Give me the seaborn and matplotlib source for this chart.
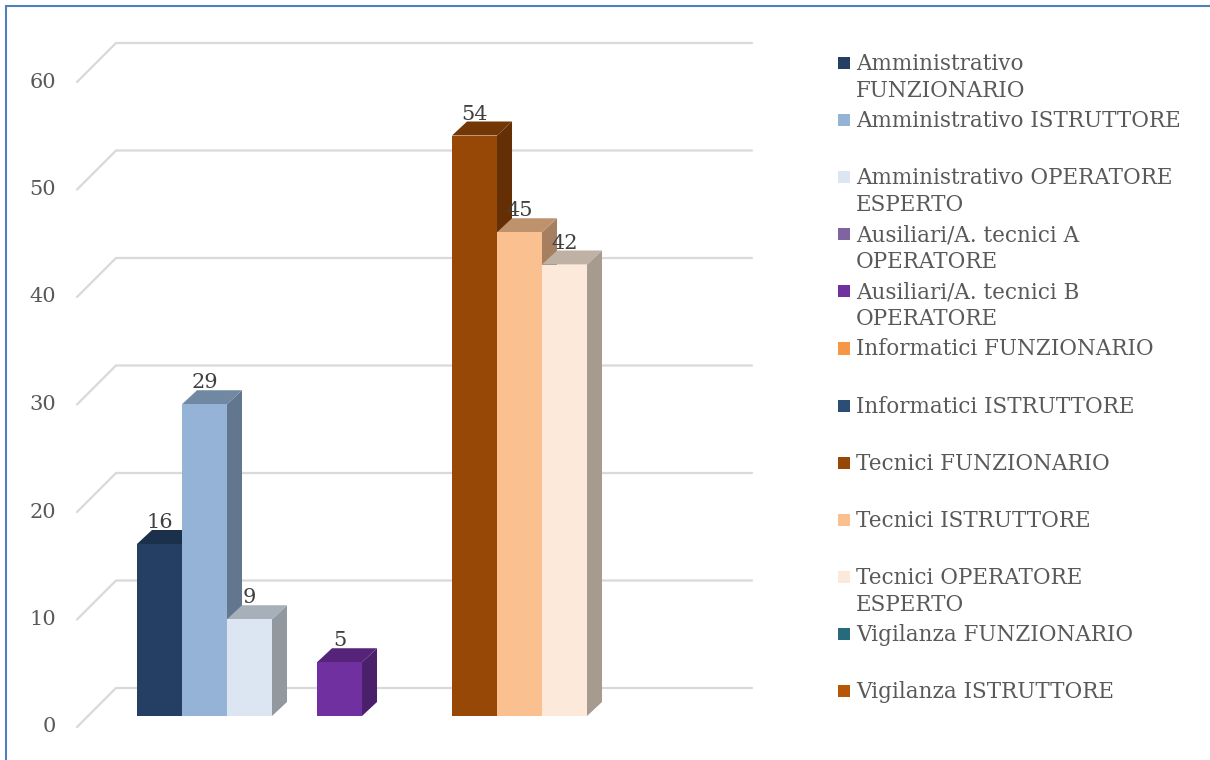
import numpy as np
import pandas as pd
import matplotlib
matplotlib.use('Agg')
import matplotlib.pyplot as plt
from matplotlib.patches import Polygon, Rectangle
from matplotlib.colors import to_rgb
import seaborn as sns

# data
profili = ['Amministrativo FUNZIONARIO', 'Amministrativo ISTRUTTORE',
           'Amministrativo OPERATORE ESPERTO', 'Ausiliari/A. tecnici A OPERATORE',
           'Ausiliari/A. tecnici B OPERATORE', 'Informatici FUNZIONARIO',
           'Informatici ISTRUTTORE', 'Tecnici FUNZIONARIO', 'Tecnici ISTRUTTORE',
           'Tecnici OPERATORE ESPERTO', 'Vigilanza FUNZIONARIO', 'Vigilanza ISTRUTTORE']
etichette = ['Amministrativo\nFUNZIONARIO', 'Amministrativo ISTRUTTORE',
             'Amministrativo OPERATORE\nESPERTO', 'Ausiliari/A. tecnici A\nOPERATORE',
             'Ausiliari/A. tecnici B\nOPERATORE', 'Informatici FUNZIONARIO',
             'Informatici ISTRUTTORE', 'Tecnici FUNZIONARIO', 'Tecnici ISTRUTTORE',
             'Tecnici OPERATORE\nESPERTO', 'Vigilanza FUNZIONARIO', 'Vigilanza ISTRUTTORE']
valori = [16, 29, 9, 0, 5, 0, 0, 54, 45, 42, 0, 0]
colori = ['#243F63', '#95B3D7', '#DCE6F2', '#8064A2', '#7030A0', '#F79646',
          '#2C4D75', '#974706', '#FAC090', '#FDE9D9', '#276A7C', '#B65708']
y_ticks = [0, 10, 20, 30, 40, 50, 60]

sns.set_style('white')
plt.rcParams['font.family'] = ['DejaVu Serif']

W, H = 1210, 760
fig = plt.figure(figsize=(W / 100, H / 100), dpi=100)
# front plane of the bars (pixels)
left, right, base, top = 88, 724, 716, 71
ax = fig.add_axes([left / W, 1 - base / H, (right - left) / W, (base - top) / H])

df = pd.DataFrame({'gruppo': [''] * len(profili), 'profilo': profili, 'n': valori})
sns.barplot(data=df, x='gruppo', y='n', hue='profilo', hue_order=profili,
            palette=colori, saturation=1, width=0.8, linewidth=0,
            legend=False, ax=ax)
ax.set_ylim(0, 60)
ax.set_xlim(-0.4726, 0.4696)
ax.set_axis_off()

# pixels per data unit
p0 = ax.transData.transform((0, 0))
p1 = ax.transData.transform((1, 1))
sx, sy = p1[0] - p0[0], p1[1] - p0[1]
dx, dy = 15 / sx, 14 / sy
xl, xr = ax.get_xlim()

# 3d gridlines and tick labels
for v in y_ticks:
    ax.plot([xl - 11 / sx, xl + 28 / sx, xr + 28 / sx],
            [v - 11 / sy, v + 28 / sy, v + 28 / sy],
            color='#D9D9D9', lw=1.6, zorder=1, clip_on=False)
    ax.text(xl - 32 / sx, v - 11 / sy, str(v), ha='right', va='center',
            fontsize=15, color='#595959')

# side / top faces
for i, (cont, v, c) in enumerate(zip(ax.containers, valori, colori)):
    bar = cont.patches[0]
    bar.set_zorder(3 + i * 0.1 + 0.05)
    if v == 0:
        continue
    x0 = bar.get_x()
    x1 = x0 + bar.get_width()
    h = bar.get_height()
    rgb = np.array(to_rgb(c))
    side = Polygon([(x1, 0), (x1 + dx, dy), (x1 + dx, h + dy), (x1, h)],
                   facecolor=rgb * 0.66, edgecolor='none', zorder=3 + i * 0.1, clip_on=False)
    cap = Polygon([(x0, h), (x0 + dx, h + dy), (x1 + dx, h + dy), (x1, h)],
                  facecolor=rgb * 0.76, edgecolor='none', zorder=3 + i * 0.1, clip_on=False)
    ax.add_patch(side)
    ax.add_patch(cap)
    ax.annotate(str(v), ((x0 + x1) / 2, h), xytext=(0, 11.5), textcoords='offset points',
                ha='center', va='baseline', fontsize=15, color='#404040',
                zorder=10, annotation_clip=False)

# legend
for i, (lab, c) in enumerate(zip(etichette, colori)):
    yc = 63 + 57.1 * i
    fig.patches.append(Rectangle((838 / W, 1 - (yc + 6) / H), 12 / W, 12 / H,
                                 transform=fig.transFigure, facecolor=c, edgecolor='none'))
    for k, riga in enumerate(lab.split('\n')):
        fig.text(856 / W, 1 - (yc + 7 + 27 * k) / H, riga, ha='left', va='baseline',
                 fontsize=15.5, color='#595959')

# border
fig.patches.append(Rectangle((6 / W, -0.05), 1.1, 1 - 6 / H + 0.05, fill=False,
                             edgecolor='#4F81BD', lw=1.5, transform=fig.transFigure))

fig.savefig('out.png', dpi=100)
